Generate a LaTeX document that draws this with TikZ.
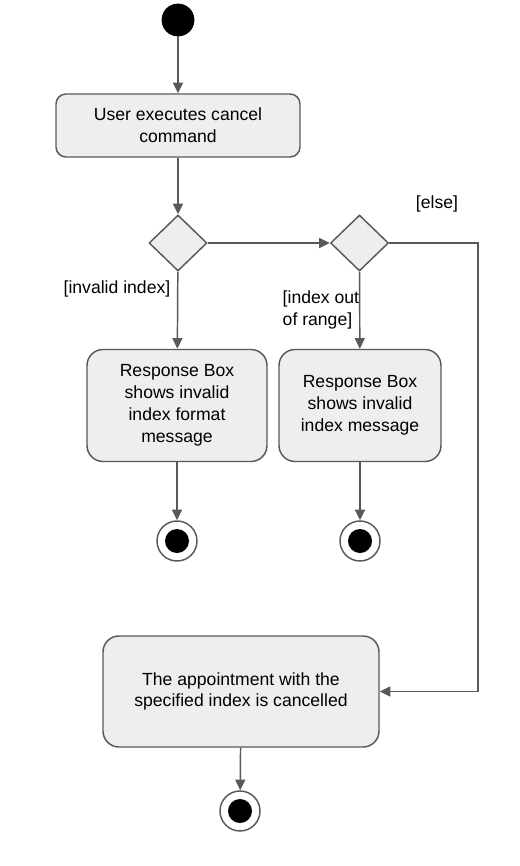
\documentclass[tikz,border=0pt]{standalone}
\usepackage{fontspec}
\setmainfont{Liberation Sans}
\usetikzlibrary{shapes.geometric,arrows.meta}

\definecolor{lineGray}{RGB}{89,89,89}
\definecolor{boxFill}{RGB}{238,238,238}

\tikzset{every picture/.style={line width=1.1pt}}
\tikzset{
  actbox/.style={draw=lineGray, fill=boxFill, rounded corners=12pt, align=center, inner sep=0.75pt, font=\fontsize{13.2}{16.4}\selectfont},
  decision/.style={draw=lineGray, fill=boxFill, diamond, inner sep=0pt, minimum width=43.5pt, minimum height=42pt},
  startstate/.style={circle, fill=black, draw=black, line width=0.6pt, minimum size=24pt, inner sep=0pt},
  endstate/.style={circle, fill=white, draw=lineGray, minimum size=30pt, inner sep=0pt, path picture={\fill[black] (path picture bounding box.center) circle (9pt);}},
  flow/.style={draw=lineGray, -{Triangle[width=7.5pt,length=8pt]}},
  guard/.style={inner sep=0.75pt, align=left, font=\fontsize{13.2}{16.4}\selectfont}
}

\begin{document}
\begin{tikzpicture}[x=0.75pt,y=0.75pt,yscale=-1,xscale=1]
	\useasboundingbox (0,0) rectangle (520,866);
	
	%Flowchart: Connector [id:start]
	\node [startstate] (start) at (178,20) {};
	%Rounded Rect [id:cmd]
	\node [actbox, minimum width=183pt, minimum height=47.25pt, rounded corners=7.5pt] (cmd) at (178,125.5) {User executes cancel\\command};
	%Flowchart: Decision [id:dec1]
	\node [decision] (dec1) at (178,243) {};
	%Flowchart: Decision [id:dec2]
	\node [decision] (dec2) at (359.5,243) {};
	%Rounded Rect [id:fmtmsg]
	\node [actbox, minimum width=135pt, minimum height=84pt] (fmtmsg) at (177,405.5) {Response Box\\shows invalid\\index format\\message};
	%Rounded Rect [id:rangemsg]
	\node [actbox, minimum width=121.5pt, minimum height=84pt] (rangemsg) at (360,405.5) {Response Box\\shows invalid\\index message};
	%Flowchart: Connector [id:end1]
	\node [endstate] (end1) at (177,541) {};
	%Flowchart: Connector [id:end2]
	\node [endstate] (end2) at (360,541) {};
	%Rounded Rect [id:done]
	\node [actbox, minimum width=207pt, minimum height=83.25pt] (done) at (241,691.5) {The appointment with the\\specified index is cancelled};
	%Flowchart: Connector [id:end3]
	\node [endstate] (end3) at (240,811) {};
	\coordinate (elsecorner) at (478,243);
	
	%Straight Lines
	\draw [flow] (start) -- (cmd);
	\draw [flow] (cmd) -- (dec1);
	\draw [flow] (dec1) -- (dec2);
	\draw [flow] (dec1) -- (fmtmsg);
	\draw [flow] (dec2) -- (rangemsg);
	\draw [flow] (fmtmsg) -- (end1);
	\draw [flow] (rangemsg) -- (end2);
	\draw [flow] (dec2.east) -- (elsecorner) |- (done.east);
	\draw [flow] (done) -- (end3);
	
	% Text Node
	\node [guard, anchor=east] (gInvalid) at (172,289) {[invalid index]};
	% Text Node
	\node [guard, anchor=north west] (gRange) at (281,289) {[index out\\of range]};
	% Text Node
	\node [guard] (gElse) at (437,204) {[else]};
	
\end{tikzpicture}
\end{document}
